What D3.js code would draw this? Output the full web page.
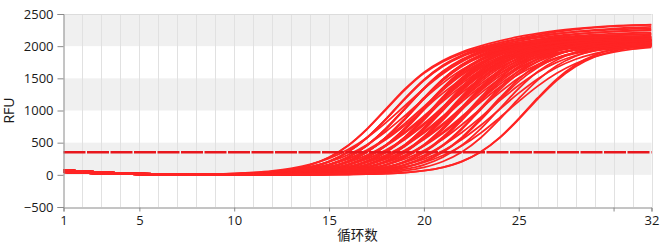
<!DOCTYPE html>
<html><head><meta charset="utf-8">
<script src="https://cdn.jsdelivr.net/npm/d3@7"></script>
<style>body{margin:0;background:#fff}svg{display:block}</style>
</head><body>
<svg id="chart" width="660" height="247"></svg>
<script>
const cycles = [1,2,3,4,5,6,7,8,9,10,11,12,13,14,15,16,17,18,19,20,21,22,23,24,25,26,27,28,29,30,31,32];
const xTicks = [1,5,10,15,20,25,30,32];
const xTickLabels = ["1","5","10","15","20","25","","32"];
const yTicks = [-500,0,500,1000,1500,2000,2500];
const shadedBands = [[2000,2500],[1000,1500],[0,500]];
const threshold = 350;
const xTitle = "循环数";
const yTitle = "RFU";

const curves = [
[75,55,40,28,18,12,8,7,8,14,25,47,86,156,273,457,715,1025,1335,1593,1777,1909,2005,2081,2147,2198,2240,2272,2297,2316,2327,2334],
[58,42,30,20,13,8,6,6,7,14,25,47,85,154,270,452,708,1015,1322,1578,1760,1889,1980,2051,2110,2156,2193,2221,2243,2259,2269,2275],
[42,30,21,14,9,6,4,4,5,10,19,35,64,117,208,357,580,870,1190,1480,1703,1858,1968,2052,2120,2178,2224,2259,2287,2307,2322,2332],
[75,55,40,28,18,12,8,6,6,10,19,35,64,116,207,355,577,866,1184,1473,1695,1847,1952,2026,2083,2129,2164,2191,2211,2226,2237,2244],
[58,42,30,20,13,8,6,5,5,10,19,34,64,116,206,354,574,862,1178,1466,1686,1837,1938,2006,2057,2095,2123,2145,2160,2172,2180,2186],
[42,30,21,14,9,6,3,3,4,7,14,26,48,87,157,275,461,722,1035,1348,1609,1795,1925,2017,2087,2145,2190,2226,2253,2274,2290,2299],
[75,55,40,28,18,12,7,5,5,7,14,25,47,86,156,273,457,715,1025,1335,1593,1777,1903,1988,2049,2096,2131,2159,2179,2194,2205,2212],
[58,42,30,20,13,8,5,4,4,7,14,26,47,87,156,274,459,718,1030,1342,1601,1786,1908,1984,2035,2068,2091,2107,2118,2127,2133,2136],
[42,30,21,14,9,6,3,3,4,7,14,25,47,86,156,273,457,715,1025,1335,1593,1777,1896,1970,2014,2042,2058,2070,2077,2082,2086,2087],
[75,55,40,28,18,11,7,5,4,5,10,19,35,65,117,209,359,583,875,1195,1488,1711,1865,1971,2045,2103,2149,2184,2211,2231,2246,2257],
[58,42,30,20,13,7,5,4,3,5,10,19,35,64,117,208,357,580,870,1190,1480,1703,1854,1953,2018,2062,2095,2118,2135,2147,2156,2162],
[42,30,21,14,9,5,3,3,3,5,10,19,35,65,117,209,359,583,875,1195,1488,1711,1862,1958,2015,2052,2076,2091,2102,2108,2113,2116],
[75,55,40,28,18,11,7,5,4,5,10,19,35,64,116,207,355,577,866,1184,1473,1695,1843,1936,1990,2022,2041,2052,2060,2063,2066,2068],
[58,42,30,20,13,7,5,4,3,5,10,19,34,64,116,206,354,574,862,1178,1466,1686,1834,1924,1976,2006,2021,2030,2035,2037,2038,2039],
[42,30,21,14,9,5,2,2,2,4,7,14,26,48,88,158,277,463,725,1040,1355,1617,1803,1928,2009,2064,2104,2133,2155,2170,2181,2189],
[75,55,40,28,18,11,6,4,3,4,7,14,26,48,87,157,275,461,722,1035,1348,1609,1795,1917,1993,2041,2073,2095,2111,2121,2128,2133],
[58,42,30,20,13,7,4,3,2,4,7,14,26,47,87,156,274,459,718,1030,1342,1601,1786,1906,1977,2021,2047,2063,2073,2079,2084,2087],
[42,30,21,14,9,5,2,2,2,4,7,14,25,47,86,156,273,457,715,1025,1335,1593,1777,1894,1964,2003,2025,2036,2043,2046,2048,2049],
[75,55,40,28,18,11,6,4,3,4,7,14,25,46,85,153,269,450,704,1010,1316,1570,1751,1867,1935,1974,1995,2006,2013,2016,2018,2019],
[58,42,30,20,13,7,4,2,2,3,5,10,19,35,65,118,210,360,585,879,1201,1495,1720,1872,1969,2031,2072,2100,2120,2133,2143,2149],
[42,30,21,14,9,5,2,1,2,3,5,10,19,35,65,117,209,359,583,875,1195,1488,1711,1862,1957,2013,2049,2071,2085,2094,2100,2104],
[75,55,40,28,18,11,6,3,3,3,5,10,19,35,66,119,212,364,591,887,1213,1509,1736,1888,1981,2034,2065,2081,2090,2095,2097,2098],
[58,42,30,20,13,7,4,2,2,3,5,10,19,34,64,116,206,354,574,862,1178,1466,1686,1834,1924,1976,2006,2021,2030,2035,2037,2038],
[42,30,21,14,9,5,2,1,2,3,5,10,18,34,63,114,203,348,566,849,1161,1444,1662,1807,1896,1947,1976,1992,2000,2005,2007,2008],
[75,55,40,28,18,11,6,3,1,2,4,8,14,26,48,88,159,279,468,732,1050,1368,1632,1821,1943,2018,2063,2091,2108,2119,2127,2132],
[58,42,30,20,13,7,4,2,0,2,4,8,14,26,48,88,159,278,465,729,1045,1361,1625,1812,1931,2002,2042,2064,2076,2082,2086,2088],
[42,30,21,14,9,5,2,1,0,2,4,7,14,26,47,87,156,274,459,718,1030,1342,1601,1786,1904,1973,2013,2034,2046,2053,2056,2058],
[75,55,40,28,18,11,6,3,1,2,4,7,14,25,47,85,154,270,452,708,1015,1322,1578,1760,1876,1945,1983,2005,2016,2023,2026,2028],
[58,42,30,20,13,7,4,2,0,2,4,7,13,25,46,84,152,266,445,697,1000,1303,1555,1734,1848,1916,1954,1975,1987,1993,1996,1998],
[42,30,21,14,9,5,2,1,0,2,3,6,10,19,36,66,120,214,367,597,896,1224,1523,1753,1906,2000,2054,2084,2101,2110,2114,2117],
[75,55,40,28,18,11,6,3,1,2,3,5,10,19,35,65,118,210,360,585,879,1201,1495,1720,1870,1962,2015,2045,2061,2070,2075,2077],
[58,42,30,20,13,7,4,2,0,2,3,5,10,19,35,64,116,207,355,577,866,1184,1473,1695,1843,1934,1986,2015,2031,2040,2045,2047],
[42,30,21,14,9,5,2,1,0,2,3,5,10,18,34,63,114,203,348,566,849,1161,1444,1662,1807,1896,1947,1976,1992,2000,2005,2007],
[75,55,40,28,18,11,6,3,1,1,2,4,8,14,26,48,88,159,279,468,732,1050,1368,1632,1821,1941,2012,2052,2074,2086,2092,2096],
[58,42,30,20,13,7,4,2,0,1,2,4,7,14,26,47,87,156,274,459,718,1030,1342,1601,1786,1904,1973,2013,2034,2046,2053,2056],
[42,30,21,14,9,5,2,1,0,1,2,4,7,14,25,46,85,153,269,450,704,1010,1316,1570,1751,1867,1935,1974,1995,2006,2013,2016],
[75,55,40,28,18,11,6,3,1,0,1,3,5,10,19,35,65,119,211,362,588,883,1207,1502,1728,1879,1971,2025,2055,2071,2080,2085],
[58,42,30,20,13,7,4,2,0,0,1,3,5,10,19,34,64,116,206,354,574,862,1178,1466,1686,1834,1924,1976,2006,2021,2030,2035],
[42,30,21,14,9,5,2,1,0,0,1,3,5,10,18,34,62,113,202,347,563,845,1155,1437,1653,1798,1887,1938,1966,1982,1990,1995],
[75,55,40,28,18,11,6,3,1,0,1,2,4,7,14,26,48,88,158,277,463,725,1040,1355,1617,1803,1922,1992,2032,2054,2066,2073],
[58,42,30,20,13,7,4,2,0,0,1,2,4,7,14,25,47,85,154,270,452,708,1015,1322,1578,1760,1876,1945,1983,2005,2016,2023],
[42,30,21,14,9,5,2,1,0,0,0,1,3,5,10,19,35,65,117,209,359,583,875,1195,1488,1711,1861,1953,2005,2035,2051,2060],
[75,55,40,28,18,11,6,3,1,0,0,1,3,5,10,18,34,63,115,204,350,568,853,1167,1452,1670,1816,1905,1957,1986,2002,2010],
[58,42,30,20,13,7,4,2,0,0,0,1,2,4,7,14,26,47,87,156,274,459,718,1030,1342,1601,1786,1904,1973,2013,2034,2046],
[42,30,21,14,9,5,2,1,0,0,0,0,1,3,5,10,19,35,64,116,207,355,577,866,1184,1473,1695,1843,1934,1986,2015,2031],
[75,55,40,28,18,11,6,3,1,0,0,0,0,0,3,5,10,19,35,65,117,209,359,583,875,1195,1488,1711,1861,1953,2005,2035],
[58,42,30,20,13,7,4,2,0,0,0,0,0,0,3,5,10,19,34,64,116,206,354,574,862,1178,1466,1686,1834,1924,1976,2006],
[58,42,30,21,15,10,9,11,14,24,39,63,102,163,256,392,578,812,1075,1338,1572,1758,1894,1987,2048,2087,2111,2126,2136,2141,2145,2147],
[42,30,21,15,11,8,6,8,11,18,30,48,78,126,200,311,468,674,919,1181,1426,1632,1789,1900,1974,2022,2052,2070,2082,2089,2093,2096],
[75,55,40,28,19,13,9,8,10,14,23,38,62,100,161,253,387,570,800,1060,1320,1550,1733,1867,1959,2020,2058,2082,2097,2106,2111,2115],
[58,42,30,20,14,9,7,7,8,14,22,37,60,97,155,243,372,549,770,1020,1270,1491,1668,1797,1885,1943,1980,2003,2017,2026,2031,2035],
[42,30,21,14,10,7,5,5,7,11,18,29,48,78,126,199,309,465,670,915,1175,1420,1625,1781,1891,1964,2012,2042,2061,2072,2080,2085],
[75,55,40,28,19,13,9,7,7,11,17,29,47,76,122,193,300,452,651,889,1141,1379,1578,1730,1837,1908,1954,1983,2001,2013,2020,2025],
[58,42,30,20,13,8,6,5,5,9,14,23,38,62,100,160,252,385,567,797,1055,1313,1543,1725,1858,1950,2010,2048,2072,2086,2096,2101],
[42,30,21,14,9,6,4,4,5,8,14,23,37,60,97,156,244,374,551,774,1025,1276,1499,1676,1806,1894,1953,1990,2013,2028,2036,2041],
[75,55,40,28,18,12,8,5,5,7,11,18,29,48,78,125,198,308,463,667,911,1169,1413,1617,1772,1882,1955,2002,2032,2051,2062,2070],
[58,42,30,20,13,8,6,4,4,6,11,17,28,46,75,121,193,299,450,648,884,1136,1372,1570,1721,1828,1899,1944,1973,1992,2003,2010],
[42,30,21,14,9,6,3,3,3,5,9,14,23,38,62,100,159,250,383,565,793,1050,1307,1535,1717,1850,1941,2000,2038,2062,2077,2086],
[75,55,40,28,18,11,7,5,4,5,8,14,22,37,60,97,155,243,372,549,770,1020,1270,1491,1668,1797,1885,1943,1980,2003,2017,2026],
[58,42,30,20,13,7,5,4,2,4,7,11,18,29,48,77,124,197,306,461,664,906,1164,1406,1609,1764,1873,1946,1993,2022,2041,2053],
[42,30,21,14,9,5,3,3,2,4,6,10,17,28,46,75,121,192,297,448,645,880,1130,1365,1562,1712,1819,1889,1935,1964,1982,1993],
[75,55,40,28,18,11,7,4,3,3,5,8,14,23,37,60,98,156,246,376,554,778,1030,1282,1506,1684,1814,1904,1962,2000,2023,2037],
[58,42,30,20,13,7,4,3,1,2,4,7,11,18,29,47,76,123,195,303,457,658,897,1153,1392,1593,1747,1855,1927,1974,2003,2021],
[42,30,21,14,9,5,2,1,1,2,3,5,8,14,22,37,60,97,155,243,372,549,770,1020,1270,1491,1668,1797,1885,1943,1980,2003],
[75,55,40,28,18,11,6,3,2,2,2,4,6,11,17,29,47,76,122,193,300,452,651,889,1141,1379,1578,1730,1837,1908,1954,1983]
];

const W = 660, H = 247;
const m = {l: 63.5, r: 8.5, t: 14, b: 40};
const svg = d3.select("#chart");
const x = d3.scaleLinear().domain([1, 32]).range([m.l, W - m.r]);
const y = d3.scaleLinear().domain([-500, 2500]).range([H - m.b, m.t]);

svg.append("g").selectAll("rect").data(shadedBands).join("rect")
  .attr("x", x(1)).attr("width", x(32) - x(1))
  .attr("y", d => y(d[1])).attr("height", d => y(d[0]) - y(d[1]))
  .attr("fill", "#f0f0f0");

svg.append("g").selectAll("line").data(cycles.filter(c => c > 1)).join("line")
  .attr("x1", d => Math.round(x(d)) + 0.5).attr("x2", d => Math.round(x(d)) + 0.5)
  .attr("y1", y(2500)).attr("y2", y(-500))
  .attr("stroke", "#e1e1e1").attr("stroke-width", 1);

svg.append("line").attr("x1", x(1)).attr("x2", x(32))
  .attr("y1", Math.round(y(2500)) + 0.5).attr("y2", Math.round(y(2500)) + 0.5)
  .attr("stroke", "#dcdcdc");

svg.append("defs").append("clipPath").attr("id", "clip").append("rect")
  .attr("x", x(1)).attr("y", y(2500)).attr("width", x(32) - x(1)).attr("height", y(-500) - y(2500));
const line = d3.line().x((d, i) => x(cycles[i])).y(d => y(d)).curve(d3.curveMonotoneX);
svg.append("g").attr("clip-path", "url(#clip)").selectAll("path").data(curves).join("path")
  .attr("d", line).attr("fill", "none").attr("stroke", "#ff2424").attr("stroke-width", 1.8);

svg.append("line").attr("x1", x(1)).attr("x2", x(32))
  .attr("y1", y(threshold)).attr("y2", y(threshold))
  .attr("stroke", "#e8171d").attr("stroke-width", 2.6).attr("stroke-dasharray", "22,1.5");

const fontNum = "'Open Sans', 'Noto Sans', sans-serif";
const yAxis = svg.append("g").attr("transform", `translate(${Math.round(x(1)) - 0.5},0)`)
  .call(d3.axisLeft(y).tickValues(yTicks).tickFormat(d3.format("d")).tickSize(6).tickPadding(4));
const xAxis = svg.append("g").attr("transform", `translate(0,${Math.round(y(-500)) + 0.5})`)
  .call(d3.axisBottom(x).tickValues(xTicks).tickFormat((d, i) => xTickLabels[i]).tickSize(4).tickPadding(4));
[yAxis, xAxis].forEach(a => {
  a.select(".domain").attr("stroke", "#8a8a8a");
  a.selectAll(".tick line").attr("stroke", "#8a8a8a");
  a.selectAll(".tick text").attr("fill", "#1a1a1a").style("font-family", fontNum).style("font-size", "13px");
});

svg.append("text").attr("x", (x(1) + x(32)) / 2).attr("y", 240)
  .attr("text-anchor", "middle").style("font-family", "'Noto Sans CJK SC', sans-serif")
  .style("font-size", "13.5px").attr("fill", "#1a1a1a").text(xTitle);
svg.append("text").attr("transform", `translate(14,${(y(2500) + y(-500)) / 2}) rotate(-90)`)
  .attr("text-anchor", "middle").style("font-family", fontNum)
  .style("font-size", "14px").attr("fill", "#1a1a1a").text(yTitle);
</script>
</body></html>
